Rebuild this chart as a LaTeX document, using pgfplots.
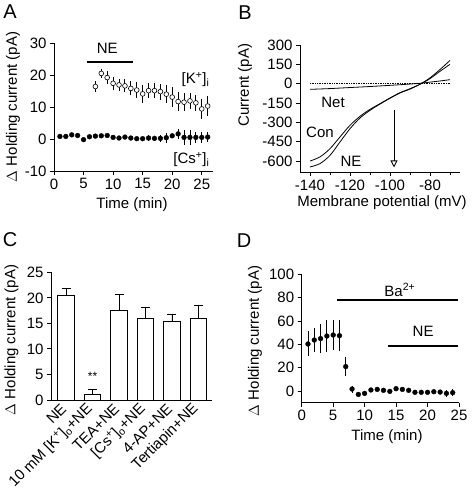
\documentclass[border=0pt]{standalone}
\usepackage{fontspec}
\setmainfont{Liberation Sans}
\usepackage{pgfplots}
\pgfplotsset{compat=1.18}
\usetikzlibrary{arrows.meta}

\pgfplotsset{
  panel/.style={
    scale only axis,
    axis lines=left,
    axis line style={-, line width=0.9pt},
    tick align=outside,
    major tick length=4pt,
    minor tick length=3pt,
    every tick/.style={black, line width=0.9pt},
    tick label style={font=\fontsize{15}{17}\selectfont},
    /pgf/number format/assume math mode=true,
    clip=false,
    anchor=south west,
  },
  dots/.style={only marks, mark=*, mark size=2.4pt, black,
    error bars/y dir=both, error bars/y explicit, error bars/error mark=none,
    error bars/error bar style={line width=0.9pt, black}},
}
\newcommand{\lab}{\fontsize{15}{17}\selectfont}

\pgfplotstableread{
t v e
1 0.8 0.4
2 0.8 0.4
3 1.3 0.4
4 1.1 0.4
5 -0.2 0.4
6 0.7 0.4
7 0.9 0.4
8 1.0 0.4
9 1.1 0.4
10 0.5 0.4
11 0.3 0.4
12 0.6 0.4
13 0.3 0.4
14 0.1 0.5
15 0.1 0.5
16 0.3 0.8
17 0.2 0.8
18 0.2 1.0
19 0.4 1.5
20 1.0 0.5
21 1.6 1.5
22 0.5 2.3
23 0.5 2.3
24 0.5 1.8
25 0.5 1.8
26 0.6 1.5
}\csdata

\pgfplotstableread{
t v e
7 16.4 1.7
8 20.5 1.5
9 19.2 2.0
10 17.4 2.0
11 16.9 2.0
12 16.6 2.0
13 15.8 2.2
14 15.3 2.5
15 14.1 2.8
16 15.1 2.4
17 15.1 2.4
18 14.8 2.5
19 14.0 2.8
20 13.1 3.0
21 11.7 3.0
22 11.5 2.8
23 11.9 2.5
24 11.3 2.5
25 9.4 3.0
26 10.3 3.0
}\kdata

\pgfplotstableread{
x y e
0 20.4 1.5
1 1.0 1.15
2 17.5 3.2
3 15.9 2.2
4 15.3 1.5
5 16.0 2.6
}\cdata

\pgfplotstableread{
t v e
1 40.3 10.7
2 43.7 10.6
3 44.9 12.5
4 47.1 14
5 48.0 13
6 47.4 13.5
7 20.9 8
8 1.7 3
9 -2.9 1
10 -2.0 1.5
11 0.9 1
12 1.4 1
13 0.6 1
14 -0.3 1
15 2.0 1
16 1.4 1
17 0.6 1
18 -1.1 1.5
19 -1.1 1
20 -1.1 1
21 -0.6 1
22 -0.9 2
23 -2.0 3
24 -1.4 3
}\ddata

\begin{document}
\begin{tikzpicture}
\path[use as bounding box] (0pt,0pt) rectangle (475pt,497pt);

% panel letters
\node[font=\fontsize{20}{22}\selectfont] at (10pt,485pt) {A};
\node[font=\fontsize{20}{22}\selectfont] at (245pt,484pt) {B};
\node[font=\fontsize{20}{22}\selectfont] at (10pt,257pt) {C};
\node[font=\fontsize{20}{22}\selectfont] at (244pt,256pt) {D};

% ---------- A ----------
\begin{axis}[panel, at={(54pt,326pt)}, width=159pt, height=128pt,
  xmin=0, xmax=26.9, ymin=-10, ymax=30,
  xtick={0,5,...,25}, ytick={-10,0,10,20,30}]
\addplot[dots] table[x=t, y=v, y error=e] {\csdata};
\addplot[dots, mark options={fill=white, line width=0.6pt}] table[x=t, y=v, y error=e] {\kdata};
\addplot[line width=2.5pt, no marks] coordinates {(5.5,24) (13.4,24)};
\node[font=\lab] at (axis cs:9,28.2) {NE};
\node[font=\lab, anchor=east] at (axis cs:26.9,18.6) {[K\textsuperscript{+}]\textsubscript{i}};
\node[font=\lab, anchor=east] at (axis cs:26.9,-6.4) {[Cs\textsuperscript{+}]\textsubscript{i}};
\end{axis}
\node[font=\lab, rotate=90] at (13pt,390pt) {$\Delta$ Holding current (pA)};
\node[font=\lab] at (132pt,292pt) {Time (min)};

% ---------- B ----------
\begin{axis}[panel, at={(300pt,325pt)}, width=160pt, height=127pt,
  xmin=-145, xmax=-65, ymin=-685, ymax=300,
  xtick={-140,-120,-100,-80}, minor xtick={-130,-110,-90,-70},
  ytick={-600,-450,-300,-150,0,150,300}]
\addplot[black, densely dotted, line width=0.7pt] coordinates {(-140,0) (-70,0)};
\addplot[black, line width=0.8pt, smooth] coordinates {
(-140,-600) (-135,-568) (-130,-504) (-125,-413) (-120,-323) (-115,-253)
(-110,-199) (-105,-155) (-100,-111) (-95,-70) (-90,-39) (-85,-5)
(-80,39) (-75,96) (-70,150)};
\addplot[black, line width=0.8pt, smooth] coordinates {
(-140,-646) (-135,-620) (-130,-556) (-125,-452) (-120,-349) (-115,-266)
(-110,-207) (-105,-158) (-100,-113) (-95,-72) (-90,-42) (-85,-4)
(-80,45) (-75,110) (-70,180)};
\addplot[black, line width=0.8pt, smooth] coordinates {
(-140,-44) (-130,-38) (-120,-30) (-110,-22) (-100,-13) (-90,-3)
(-85,3) (-80,12) (-75,21) (-70,31)};
\addplot[black, line width=0.9pt, -{Triangle[open, length=7pt, width=7pt, line width=0.9pt]}]
  coordinates {(-98,-205) (-98,-650)};
\node[font=\lab] at (axis cs:-128.5,-145) {Net};
\node[font=\lab] at (axis cs:-135,-378) {Con};
\node[font=\lab] at (axis cs:-119.5,-602) {NE};
\end{axis}
\node[font=\lab, rotate=90] at (245pt,412pt) {Current (pA)};
\node[font=\lab] at (382pt,294pt) {Membrane potential (mV)};

% ---------- C ----------
\begin{axis}[panel, at={(51pt,97pt)}, width=160.7pt, height=127.7pt,
  xmin=-0.57, xmax=5.5, ymin=0, ymax=25,
  ytick={0,5,...,25}, xtick={0,...,5},
  xtick style={draw=none},
  xticklabels={NE, {10 mM [K\textsuperscript{+}]\textsubscript{o}+NE}, TEA+NE,
    {[Cs\textsuperscript{+}]\textsubscript{o}+NE}, 4-AP+NE, Tertiapin+NE},
  xticklabel style={rotate=45, anchor=east, font=\lab}]
\addplot[ybar, bar width=16.7pt, fill=white, draw=black, line width=0.9pt,
  error bars/.cd, y dir=plus, y explicit,
  error bar style={line width=0.9pt, black},
  error mark=-,
  error mark options={rotate=90, mark size=4.5pt, line width=0.9pt, black}]
  table[x=x, y=y, y error=e] {\cdata};
\node[font=\fontsize{12}{14}\selectfont] at (axis cs:1,4.7) {**};
\end{axis}
\node[font=\lab, rotate=90] at (11.5pt,157pt) {$\Delta$ Holding current (pA)};

% ---------- D ----------
\begin{axis}[panel, at={(301.7pt,94.3pt)}, width=157.3pt, height=128.4pt,
  xmin=0, xmax=25, ymin=-10, ymax=100,
  xtick={0,5,...,25}, ytick={0,20,...,100}]
\addplot[dots] table[x=t, y=v, y error=e] {\ddata};
\addplot[line width=2pt, no marks] coordinates {(5.6,77.7) (24.8,77.7)};
\addplot[line width=2pt, no marks] coordinates {(13.7,38.9) (24.8,38.9)};
\node[font=\lab] at (axis cs:15.6,86.6) {Ba\textsuperscript{2+}};
\node[font=\lab] at (axis cs:19.3,51) {NE};
\end{axis}
\node[font=\lab, rotate=90] at (255pt,156pt) {$\Delta$ Holding current (pA)};
\node[font=\lab] at (387pt,60pt) {Time (min)};
\end{tikzpicture}
\end{document}
